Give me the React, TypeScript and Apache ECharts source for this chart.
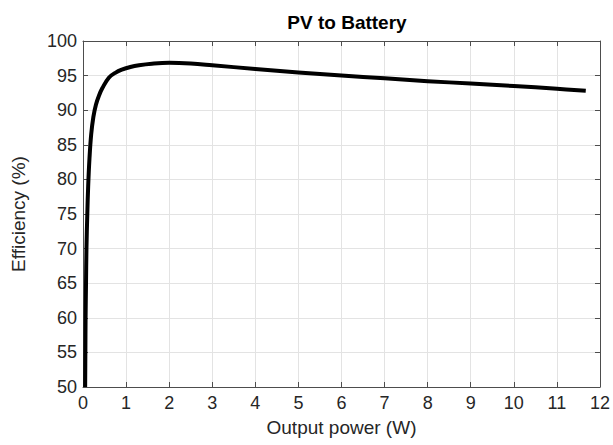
import React, { useEffect, useRef } from "react";
import * as echarts from "echarts";

const powerW = [0.05, 0.055, 0.06, 0.07, 0.08, 0.1, 0.12, 0.15, 0.19, 0.24, 0.3, 0.37, 0.45, 0.6, 0.75, 0.9, 1.1, 1.3, 1.6, 2, 2.5, 3, 4, 5, 6, 7, 8, 9, 10, 11, 11.67];
const efficiency = [50, 55, 60, 65, 70, 75, 79, 83, 86.5, 89, 90.8, 92.1, 93.2, 94.7, 95.4, 95.85, 96.25, 96.5, 96.72, 96.85, 96.75, 96.5, 95.95, 95.45, 95.0, 94.6, 94.2, 93.85, 93.5, 93.1, 92.8];

const FONT = "'Liberation Sans', Arial, Helvetica, sans-serif";
const TXT = "#262626";
const AXIS = "#4d4d4d";

export default function App() {
  const ref = useRef<HTMLDivElement>(null);
  useEffect(() => {
    if (!ref.current) return;
    const chart = echarts.init(ref.current, undefined, { renderer: "svg" });
    const data = powerW.map((x, i) => [x, efficiency[i]]);
    const hiddenLabel = { show: false };
    chart.setOption({
      animation: false,
      backgroundColor: "#ffffff",
      title: {
        text: "PV to Battery",
        left: 342,
        textAlign: "center",
        top: 8,
        textStyle: { fontFamily: FONT, fontSize: 19, fontWeight: "bold", color: "#000" },
      },
      grid: { left: 83, right: 12, top: 41, bottom: 58, containLabel: false },
      xAxis: [
        {
          type: "value",
          min: 0,
          max: 12,
          interval: 1,
          name: "Output power (W)",
          nameLocation: "middle",
          nameGap: 31,
          nameTextStyle: { fontFamily: FONT, fontSize: 19, color: TXT },
          axisLine: { show: true, onZero: false, lineStyle: { color: AXIS, width: 1 } },
          axisTick: { show: true, inside: true, length: 5, lineStyle: { color: AXIS } },
          axisLabel: { fontFamily: FONT, fontSize: 18, color: TXT, margin: 7 },
          splitLine: { show: true, lineStyle: { color: "#e3e3e3", width: 1 } },
        },
        {
          type: "value",
          position: "top",
          min: 0,
          max: 12,
          interval: 1,
          axisLine: { show: true, onZero: false, lineStyle: { color: AXIS, width: 1 } },
          axisTick: { show: true, inside: true, length: 5, lineStyle: { color: AXIS } },
          axisLabel: hiddenLabel,
          splitLine: { show: false },
        },
      ],
      yAxis: [
        {
          type: "value",
          min: 50,
          max: 100,
          interval: 5,
          name: "Efficiency (%)",
          nameLocation: "middle",
          nameGap: 55,
          nameTextStyle: { fontFamily: FONT, fontSize: 19, color: TXT },
          axisLine: { show: true, onZero: false, lineStyle: { color: AXIS, width: 1 } },
          axisTick: { show: true, inside: true, length: 5, lineStyle: { color: AXIS } },
          axisLabel: { fontFamily: FONT, fontSize: 18, color: TXT, margin: 6 },
          splitLine: { show: true, lineStyle: { color: "#e3e3e3", width: 1 } },
        },
        {
          type: "value",
          position: "right",
          min: 50,
          max: 100,
          interval: 5,
          axisLine: { show: true, onZero: false, lineStyle: { color: AXIS, width: 1 } },
          axisTick: { show: true, inside: true, length: 5, lineStyle: { color: AXIS } },
          axisLabel: hiddenLabel,
          splitLine: { show: false },
        },
      ],
      series: [
        {
          type: "line",
          data,
          xAxisIndex: 0,
          yAxisIndex: 0,
          showSymbol: false,
          smooth: 0.4,
          lineStyle: { color: "#000", width: 4, cap: "butt", join: "round" },
          clip: true,
        },
      ],
    });
    return () => chart.dispose();
  }, []);
  return <div ref={ref} style={{ width: 613, height: 445, position: "absolute", left: 0, top: 0 }} />;
}
